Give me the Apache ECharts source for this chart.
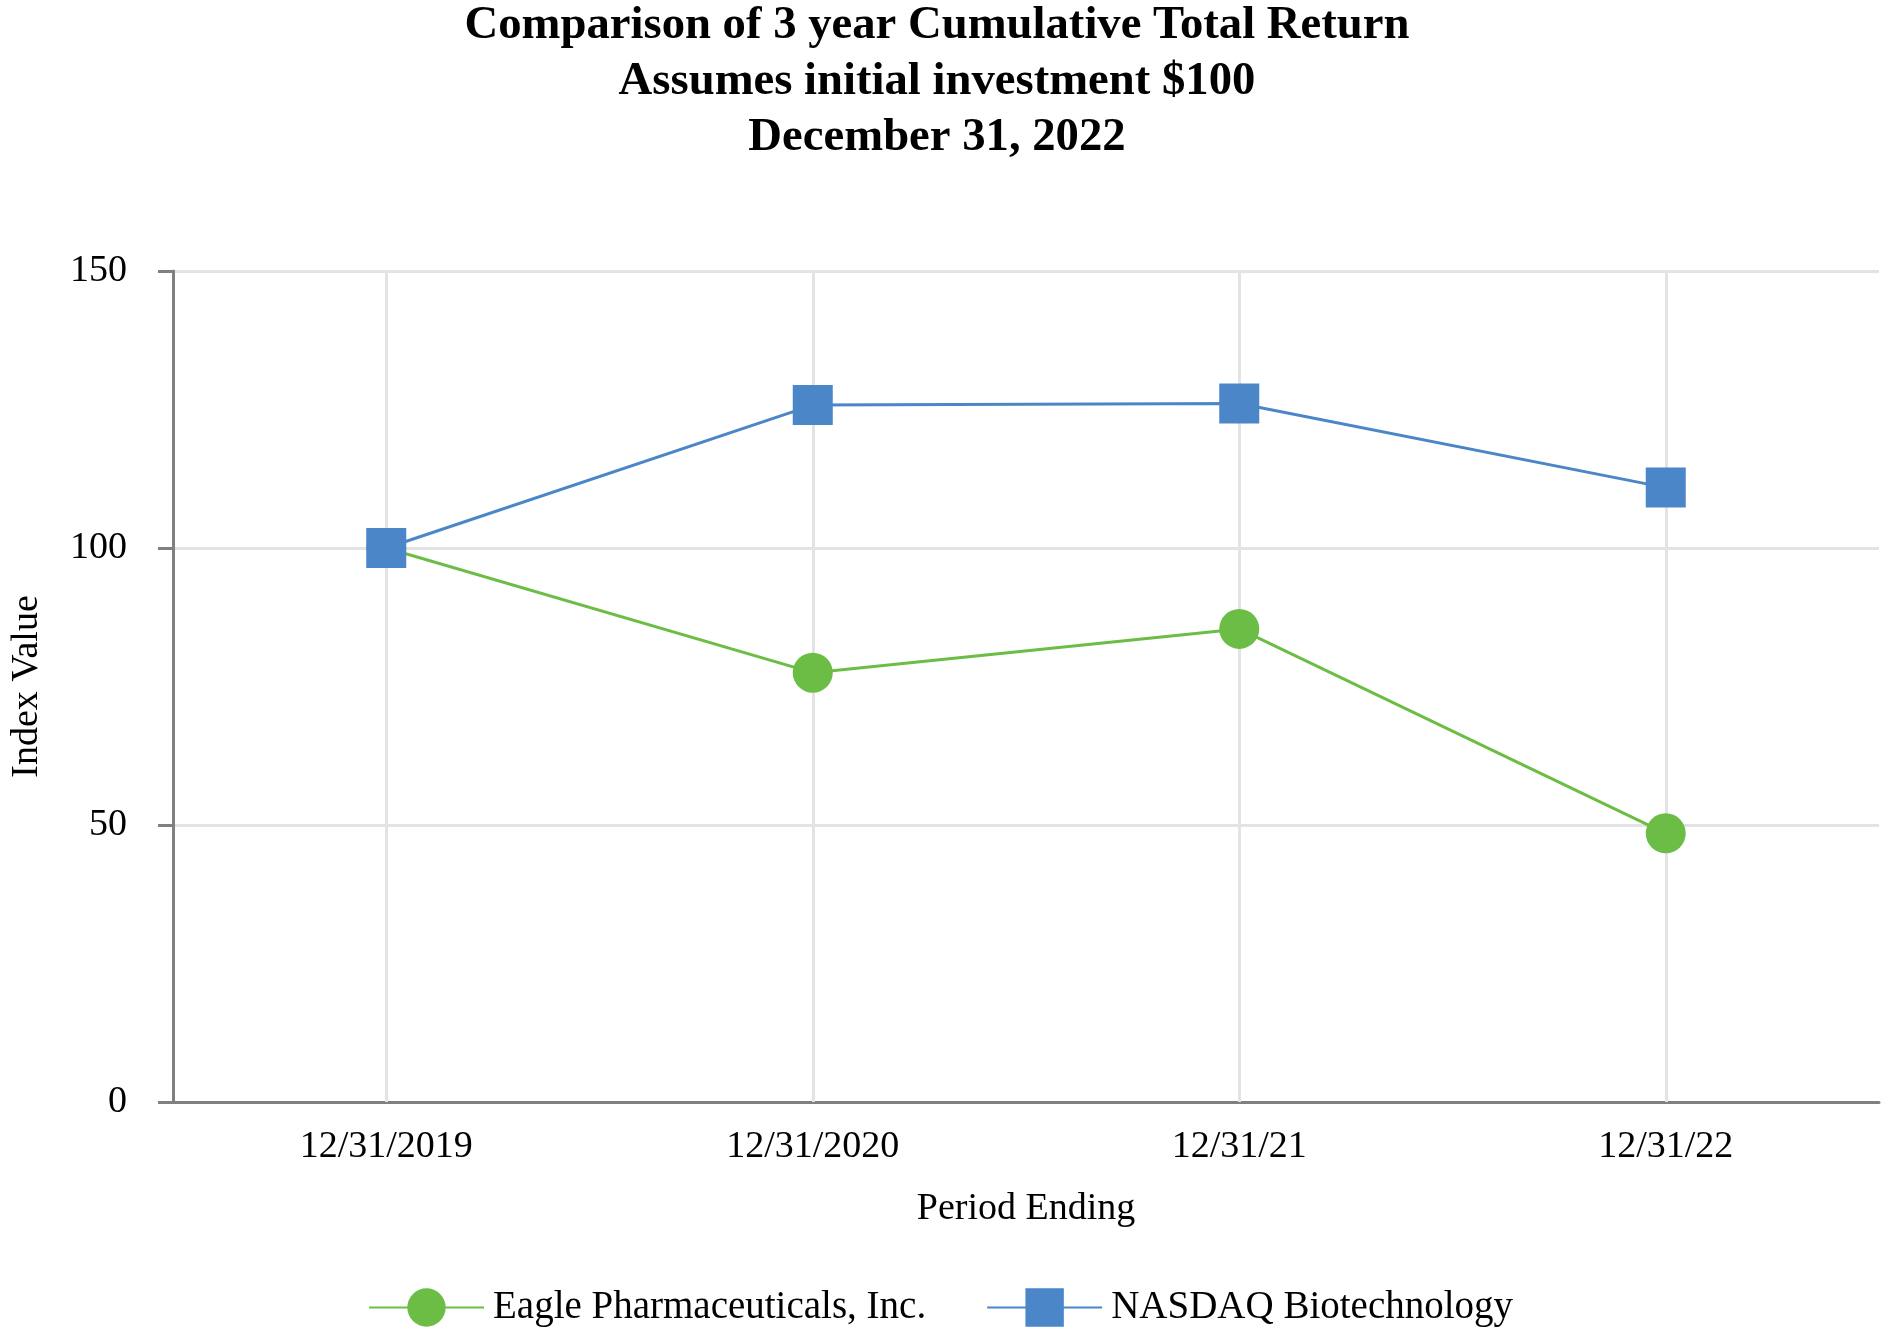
<!DOCTYPE html>
<html>
<head>
<meta charset="utf-8">
<script src="https://cdn.jsdelivr.net/npm/echarts@6/dist/echarts.min.js"></script>
<style>
html,body{margin:0;padding:0;background:#fff;}
#chart{width:1893px;height:1338px;}
</style>
</head>
<body>
<div id="chart"></div>
<script>
const categories = ['12/31/2019', '12/31/2020', '12/31/21', '12/31/22'];
const eagleValues = [100, 77.5, 85.4, 48.5];
const nasdaqValues = [100, 125.8, 126.1, 110.9];
const seriesNames = ['Eagle Pharmaceuticals, Inc.', 'NASDAQ Biotechnology'];
const titleLines = ['Comparison of 3 year Cumulative Total Return', 'Assumes initial investment $100', 'December 31, 2022'];

const FONT = '"Liberation Serif", "Times New Roman", serif';
const GREEN = '#6cbd45';
const BLUE = '#4a86c8';
const GRIDC = '#e3e3e3';
const AXISC = '#808080';

const chart = echarts.init(document.getElementById('chart'));
chart.setOption({
  backgroundColor: '#fff',
  animation: false,
  title: {
    text: titleLines.join('\n'),
    left: 937,
    textAlign: 'center',
    top: -2,
    padding: 0,
    textStyle: {
      fontFamily: FONT, fontWeight: 'bold', fontSize: 46.7, color: '#000', lineHeight: 56
    }
  },
  grid: { left: 168, right: 14, top: 271, bottom: 236, containLabel: false },
  legend: {
    data: seriesNames,
    left: 363,
    top: 1283,
    itemWidth: 115,
    itemHeight: 48,
    itemGap: 60,
    textStyle: { fontFamily: FONT, fontSize: 39, color: '#000', padding: [0, 0, 0, 4] }
  },
  xAxis: {
    type: 'category',
    data: categories,
    boundaryGap: true,
    name: 'Period Ending',
    nameLocation: 'middle',
    nameGap: 88,
    nameTextStyle: { fontFamily: FONT, fontSize: 38, color: '#000' },
    axisLine: { lineStyle: { color: AXISC, width: 3 } },
    axisTick: { alignWithLabel: true, length: 15, lineStyle: { color: AXISC, width: 3 } },
    axisLabel: { fontFamily: FONT, fontSize: 38, color: '#000', margin: 26 },
    splitLine: { show: false }
  },
  yAxis: {
    type: 'value',
    min: 0, max: 150, interval: 50,
    name: 'Index Value',
    nameLocation: 'middle',
    nameGap: 127,
    nameTextStyle: { fontFamily: FONT, fontSize: 38, color: '#000' },
    axisLine: { show: true, lineStyle: { color: AXISC, width: 3 } },
    axisTick: { show: true, length: 15, lineStyle: { color: AXISC, width: 3 } },
    axisLabel: { fontFamily: FONT, fontSize: 38, color: '#000', margin: 46 },
    splitLine: { show: true, lineStyle: { color: GRIDC, width: 3 } }
  },
  series: [
    {
      name: seriesNames[0],
      type: 'line',
      data: eagleValues,
      z: 3,
      symbol: 'circle',
      symbolSize: 40,
      lineStyle: { color: GREEN, width: 3 },
      itemStyle: { color: GREEN },
      markLine: {
        silent: true,
        z: 1,
        symbol: 'none',
        label: { show: false },
        lineStyle: { color: GRIDC, width: 3, type: 'solid' },
        data: categories.map(c => ({ xAxis: c }))
      }
    },
    {
      name: seriesNames[1],
      type: 'line',
      data: nasdaqValues,
      z: 4,
      symbol: 'rect',
      symbolSize: 40,
      lineStyle: { color: BLUE, width: 3 },
      itemStyle: { color: BLUE }
    }
  ]
});
</script>
</body>
</html>
